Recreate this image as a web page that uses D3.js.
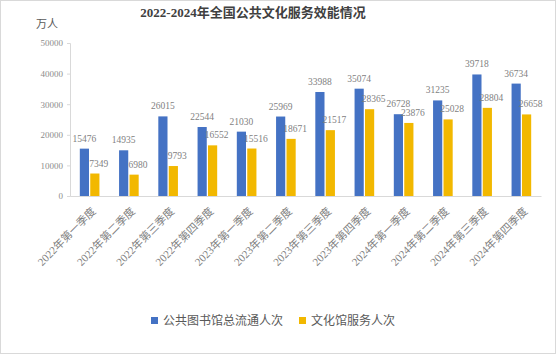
<!DOCTYPE html>
<html>
<head>
<meta charset="utf-8">
<script src="https://cdn.jsdelivr.net/npm/d3@7"></script>
<style>
  body { margin: 0; background: #fff; }
  text { font-family: "Liberation Serif", "Noto Sans CJK SC", serif; }
</style>
</head>
<body>
<div id="chart"></div>
<script>
var categories = ['2022年第一季度', '2022年第二季度', '2022年第三季度', '2022年第四季度',
                  '2023年第一季度', '2023年第二季度', '2023年第三季度', '2023年第四季度',
                  '2024年第一季度', '2024年第二季度', '2024年第三季度', '2024年第四季度'];
var library = [15476, 14935, 26015, 22544, 21030, 25969, 33988, 35074, 26728, 31235, 39718, 36734];
var culture = [7349, 6980, 9793, 16552, 15516, 18671, 21517, 28365, 23876, 25028, 28804, 26658];
var seriesNames = ['公共图书馆总流通人次', '文化馆服务人次'];
var colors = ['#4472c4', '#f2b800'];
var yTicks = [0, 10000, 20000, 30000, 40000, 50000];

var W = 556, H = 354;
var margin = {top: 43, right: 15, bottom: 158, left: 70},
    width = W - margin.left - margin.right,
    height = H - margin.top - margin.bottom;

var svg = d3.select('#chart').append('svg')
    .attr('width', W)
    .attr('height', H);

// chart border
svg.append('rect')
    .attr('x', 0.5).attr('y', 0.5)
    .attr('width', W - 1).attr('height', H - 1)
    .attr('fill', '#fff')
    .attr('stroke', '#d9d9d9');

svg.append('text')
    .attr('x', 253).attr('y', 17)
    .attr('text-anchor', 'middle')
    .style('font-size', '13px')
    .style('font-weight', 'bold')
    .style('fill', '#404040')
    .text('2022-2024年全国公共文化服务效能情况');

svg.append('text')
    .attr('x', 36).attr('y', 28)
    .style('font-size', '11px')
    .style('fill', '#595959')
    .style('font-family', 'Noto Sans CJK SC')
    .text('万人');

var g = svg.append('g')
    .attr('transform', 'translate(' + margin.left + ',' + margin.top + ')');

var x0 = d3.scaleBand()
    .domain(categories)
    .range([0, width])
    .paddingInner(0.5)
    .paddingOuter(0.25);

var x1 = d3.scaleBand()
    .domain([0, 1])
    .range([0, x0.bandwidth()])
    .paddingInner(0.12);

var y = d3.scaleLinear()
    .domain([0, 50000])
    .range([height, 0]);

// y axis
var yAxis = g.append('g')
    .call(d3.axisLeft(y).tickValues(yTicks).tickSize(3).tickFormat(d3.format('d')));
yAxis.select('.domain').attr('stroke', '#d9d9d9');
yAxis.selectAll('.tick line').attr('stroke', '#d9d9d9');
yAxis.selectAll('.tick text')
    .attr('x', -7)
    .style('font-size', '9px')
    .style('fill', '#8c8c8c')
    .style('font-family', 'Liberation Serif');

// x axis
var xAxis = g.append('g')
    .attr('transform', 'translate(0,' + height + ')')
    .call(d3.axisBottom(x0).tickSize(0).tickSizeOuter(0));
xAxis.select('.domain').attr('stroke', '#d9d9d9');
xAxis.selectAll('.tick text')
    .attr('text-anchor', 'end')
    .attr('x', 0).attr('y', 0).attr('dy', 0)
    .attr('transform', 'translate(7,16) rotate(-45)')
    .style('font-size', '11px')
    .style('fill', '#7f7f7f');

var rows = categories.map(function(c, i) {
  return {cat: c, values: [library[i], culture[i]]};
});

var groups = g.selectAll('.grp')
    .data(rows)
    .enter().append('g')
    .attr('class', 'grp')
    .attr('transform', function(d) { return 'translate(' + x0(d.cat) + ',0)'; });

groups.selectAll('rect')
    .data(function(d) { return d.values; })
    .enter().append('rect')
    .attr('x', function(d, i) { return x1(i); })
    .attr('width', x1.bandwidth())
    .attr('y', function(d) { return y(d); })
    .attr('height', function(d) { return height - y(d); })
    .style('fill', function(d, i) { return colors[i]; });

groups.selectAll('.lbl')
    .data(function(d) { return d.values; })
    .enter().append('text')
    .attr('class', 'lbl')
    .attr('x', function(d, i) { return x1(i) + x1.bandwidth() / 2 + (i === 1 ? 4 : 0); })
    .attr('y', function(d) { return y(d) - 7; })
    .attr('text-anchor', 'middle')
    .style('font-size', '9.5px')
    .style('fill', '#7f7f7f')
    .style('font-family', 'Liberation Serif')
    .text(function(d) { return d; });

// legend
var legendX = [151, 299];
var legend = svg.selectAll('.legend')
    .data(seriesNames)
    .enter().append('g')
    .attr('class', 'legend')
    .attr('transform', function(d, i) { return 'translate(' + legendX[i] + ',317)'; });
legend.append('rect')
    .attr('width', 7).attr('height', 7)
    .style('fill', function(d, i) { return colors[i]; });
legend.append('text')
    .attr('x', 12).attr('y', 8)
    .style('font-size', '12px')
    .style('fill', '#595959')
    .style('font-family', 'Noto Sans CJK SC')
    .text(function(d) { return d; });
</script>
</body>
</html>
